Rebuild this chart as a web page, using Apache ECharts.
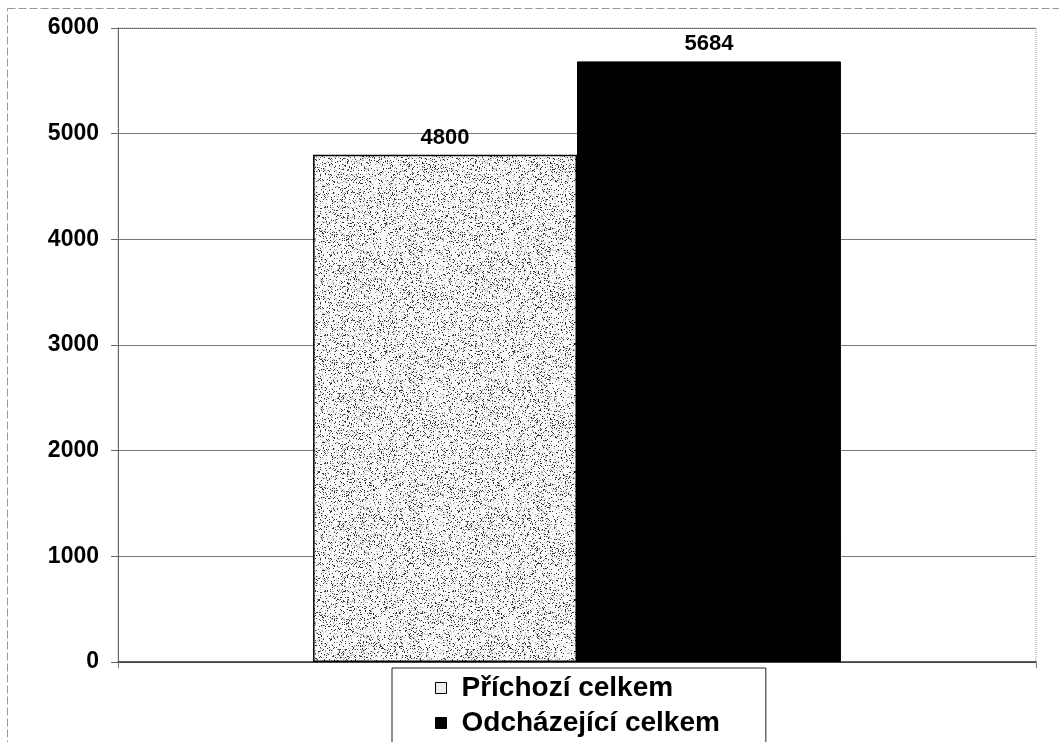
<!DOCTYPE html>
<html>
<head>
<meta charset="utf-8">
<script src="https://cdn.jsdelivr.net/npm/echarts@6/dist/echarts.min.js"></script>
<style>html,body{margin:0;padding:0;background:#fff}#c{width:1059px;height:742px}</style>
</head>
<body>
<div id="c"></div>
<script>
const categories = [''];
const seriesNames = ['Příchozí celkem', 'Odcházející celkem'];
const prichozi = [4800];
const odchazejici = [5684];
const yTicks = [0, 1000, 2000, 3000, 4000, 5000, 6000];

// stipple texture (deterministic)
function stipple() {
  const cv = document.createElement('canvas');
  cv.width = 128; cv.height = 128;
  const ctx = cv.getContext('2d');
  ctx.fillStyle = '#fafafa';
  ctx.fillRect(0, 0, 128, 128);
  let s = 12345;
  function rnd() { s = (s * 1103515245 + 12345) & 0x7fffffff; return s / 0x7fffffff; }
  for (let y = 0; y < 128; y++) {
    for (let x = 0; x < 128; x++) {
      const r = rnd();
      if (r < 0.10) { ctx.fillStyle = '#333'; ctx.fillRect(x, y, 1, 1); }
      else if (r < 0.19) { ctx.fillStyle = '#aaa'; ctx.fillRect(x, y, 1, 1); }
    }
  }
  return cv;
}

const chart = echarts.init(document.getElementById('c'), null, { renderer: 'canvas' });
const font = 'Liberation Sans, Arial, sans-serif';
chart.setOption({
  animation: false,
  backgroundColor: '#fff',
  graphic: [{
    type: 'rect', shape: { x: 7.5, y: 8.5, width: 1060, height: 740 },
    style: { fill: 'none', stroke: '#999', lineWidth: 1, lineDash: [8, 3] }, silent: true, z: -1
  }],
  grid: {
    left: 118, right: 23, top: 28, bottom: 80,
    show: true, borderColor: '#999', borderWidth: 1, borderType: 'dotted'
  },
  xAxis: {
    type: 'category', data: categories,
    axisLine: { lineStyle: { color: '#333', width: 1.5 } },
    axisTick: { show: true, length: 6, lineStyle: { color: '#777' } },
    axisLabel: { show: false }
  },
  yAxis: {
    type: 'value', min: yTicks[0], max: yTicks[yTicks.length - 1], interval: 1000,
    axisLine: { show: true, lineStyle: { color: '#666' } },
    axisTick: { show: true, length: 7, lineStyle: { color: '#666' } },
    axisLabel: { fontFamily: font, fontWeight: 'bold', fontSize: 23, color: '#000', margin: 19,
      formatter: function (v) { return String(v); } },
    splitLine: { lineStyle: { color: '#777', width: 1 } }
  },
  legend: {
    orient: 'vertical', left: 392, top: 668, height: 120,
    padding: [6, 46, 30, 43], itemGap: 7, itemWidth: 11, itemHeight: 11,
    borderColor: '#222', borderWidth: 1,
    textStyle: { fontFamily: font, fontWeight: 'bold', fontSize: 28, color: '#000', padding: [0, 0, 0, 10] },
    data: [
      { name: seriesNames[0], icon: 'rect', itemStyle: { color: '#eee', borderColor: '#000', borderWidth: 1 } },
      { name: seriesNames[1], icon: 'rect', itemStyle: { color: '#000', borderColor: '#000', borderWidth: 1 } }
    ]
  },
  series: [
    {
      name: seriesNames[0], type: 'bar', data: prichozi,
      barGap: '0%', barCategoryGap: '42.5%',
      itemStyle: { color: { image: stipple(), repeat: 'repeat' }, borderColor: '#000', borderWidth: 1.5 },
      label: { show: true, position: 'top', distance: 6, fontFamily: font, fontWeight: 'bold', fontSize: 22, color: '#000' }
    },
    {
      name: seriesNames[1], type: 'bar', data: odchazejici,
      barGap: '0%', barCategoryGap: '42.5%',
      itemStyle: { color: '#000', borderColor: '#000', borderWidth: 1 },
      label: { show: true, position: 'top', distance: 6, fontFamily: font, fontWeight: 'bold', fontSize: 22, color: '#000' }
    }
  ]
});
</script>
</body>
</html>
